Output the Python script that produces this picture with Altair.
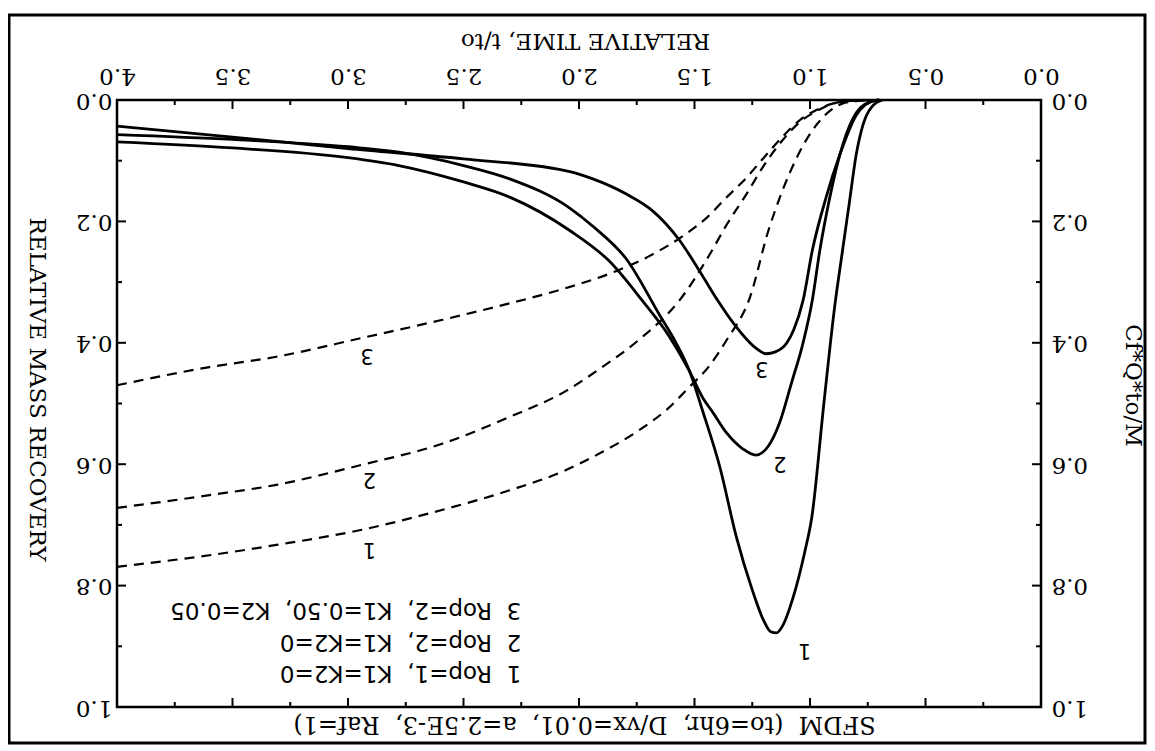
import altair as alt
import pandas as pd

W, H = 924, 607
NB = "\u00a0"

# ---- solid curves: Cf*Q*to/M ----
c1_t = [0.685, 0.73, 0.77, 0.80, 0.83, 0.86, 0.893, 0.94, 0.992, 1.023, 1.075, 1.118, 1.145, 1.17, 1.20,
        1.25, 1.32, 1.39, 1.465, 1.52, 1.58, 1.65, 1.795, 1.94, 2.04, 2.3, 2.5, 2.78, 3.0, 3.5, 4.0]
c1_v = [0.0, 0.01, 0.04, 0.09, 0.17, 0.25, 0.34, 0.50, 0.687, 0.745, 0.822, 0.866, 0.878, 0.876, 0.858,
        0.807, 0.718, 0.605, 0.512, 0.448, 0.40, 0.355, 0.262, 0.208, 0.178, 0.13, 0.108, 0.086, 0.077, 0.065, 0.057]

c2_t = [0.70, 0.74, 0.78, 0.815, 0.87, 0.914, 0.958, 0.99, 1.03, 1.08, 1.13, 1.18, 1.235, 1.29, 1.36,
        1.42, 1.465, 1.52, 1.61, 1.725, 1.87, 2.04, 2.3, 2.5, 2.78, 3.0, 3.5, 4.0]
c2_v = [0.0, 0.003, 0.012, 0.031, 0.089, 0.16, 0.249, 0.33, 0.40, 0.466, 0.53, 0.57, 0.585, 0.575, 0.549,
        0.515, 0.49, 0.448, 0.389, 0.331, 0.265, 0.215, 0.16, 0.135, 0.108, 0.095, 0.079, 0.069]

c3_t = [0.70, 0.73, 0.80, 0.87, 0.93, 0.99, 1.03, 1.07, 1.10, 1.15, 1.19, 1.23, 1.335, 1.40, 1.465,
        1.565, 1.68, 1.795, 1.94, 2.04, 2.5, 3.0, 3.5, 4.0]
c3_v = [0.0, 0.002, 0.025, 0.089, 0.16, 0.248, 0.33, 0.378, 0.40, 0.415, 0.418, 0.41, 0.366, 0.33, 0.29,
        0.231, 0.183, 0.155, 0.13, 0.118, 0.097, 0.08, 0.061, 0.043]

# ---- dashed curves: relative mass recovery ----
m1_t = [0.72, 0.80, 0.86, 0.914, 0.97, 1.044, 1.12, 1.18, 1.26, 1.36, 1.44, 1.52, 1.62, 1.74, 1.9,
        2.07, 2.30, 2.59, 2.94, 3.31, 3.6, 4.0]
m1_v = [0.0, 0.002, 0.006, 0.018, 0.04, 0.085, 0.15, 0.215, 0.325, 0.395, 0.44, 0.472, 0.51, 0.544, 0.58,
        0.612, 0.643, 0.675, 0.708, 0.733, 0.75, 0.769]

m2_t = [0.72, 0.80, 0.88, 0.97, 1.04, 1.118, 1.2, 1.275, 1.36, 1.435, 1.565, 1.74, 1.9, 2.05, 2.30,
        2.59, 2.94, 3.31, 3.6, 4.0]
m2_v = [0.0, 0.001, 0.004, 0.018, 0.035, 0.066, 0.108, 0.155, 0.205, 0.255, 0.33, 0.395, 0.44, 0.478, 0.522,
        0.566, 0.601, 0.634, 0.651, 0.672]

m3_t = [0.72, 0.80, 0.88, 0.97, 1.04, 1.118, 1.2, 1.28, 1.36, 1.45, 1.55, 1.7, 1.84, 2.085, 2.30,
        2.59, 2.94, 3.31, 3.6, 4.0]
m3_v = [0.0, 0.001, 0.004, 0.016, 0.032, 0.06, 0.095, 0.13, 0.16, 0.195, 0.224, 0.258, 0.282, 0.313, 0.335,
        0.362, 0.392, 0.423, 0.44, 0.47]

# ---- curve number labels ----
lab_text = ["1", "2", "3", "3", "2", "1"]
lab_t = [1.023, 1.131, 1.209, 2.917, 2.908, 2.908]
lab_v = [0.906, 0.598, 0.442, 0.42, 0.624, 0.74]

# ---- legend lines ----
leg_text = [
    "1" + NB * 2 + "Rop=1," + NB * 2 + "K1=K2=0",
    "2" + NB * 2 + "Rop=2," + NB * 2 + "K1=K2=0",
    "3" + NB * 2 + "Rop=2," + NB * 2 + "K1=0.50," + NB * 2 + "K2=0.05",
]
leg_t = [2.25, 2.25, 2.25]
leg_v = [0.944, 0.893, 0.84]

# ---- ticks ----
x_major = [0.0, 0.5, 1.0, 1.5, 2.0, 2.5, 3.0, 3.5, 4.0]
x_minor = [0.25, 0.75, 1.25, 1.75, 2.25, 2.75, 3.25, 3.75]
y_major = [0.0, 0.2, 0.4, 0.6, 0.8, 1.0]
y_minor = [0.1, 0.3, 0.5, 0.7, 0.9]

title_bottom = ("SFDM" + NB * 2 + "(to=6hr," + NB * 2 + "D/vx=0.01," + NB * 2 +
                "a=2.5E-3," + NB * 2 + "Raf=1)")


def frame(ts, vs, name):
    return pd.DataFrame({"t": ts, "v": vs, "curve": name})


df_solid = pd.concat([frame(c1_t, c1_v, "1"), frame(c2_t, c2_v, "2"), frame(c3_t, c3_v, "3")])
df_dash = pd.concat([frame(m1_t, m1_v, "1"), frame(m2_t, m2_v, "2"), frame(m3_t, m3_v, "3")])
df_lab = pd.DataFrame({"t": lab_t, "v": lab_v, "txt": lab_text})
df_leg = pd.DataFrame({"t": leg_t, "v": leg_v, "txt": leg_text})

xs = alt.Scale(domain=[0, 4], reverse=True, nice=False, zero=False)
ys = alt.Scale(domain=[0, 1], reverse=True, nice=False, zero=False)

SERIF = "DejaVu Serif"
LBL = dict(labelFont=SERIF, labelFontSize=23, labelColor="black", titleFont=SERIF, titleFontSize=23,
           titleFontWeight="normal", titleColor="black", ticks=False, tickSize=0, domain=False, grid=False,
           labelFlush=False, labelOverlap=False, format=".1f")

dashed = alt.Chart(df_dash).mark_line(color="black", strokeWidth=2.2, strokeDash=[10, 7],
                                      interpolate="monotone").encode(
    x=alt.X("t:Q", scale=xs, axis=alt.Axis(orient="top", values=x_major, labelAngle=180,
                                           labelBaseline="top", labelAlign="center", labelPadding=14,
                                           title="RELATIVE TIME, t/to", titleAngle=180, titleX=468,
                                           titleY=-60, titleAlign="center", titleBaseline="middle", **LBL)),
    y=alt.Y("v:Q", scale=ys, axis=alt.Axis(orient="left", values=y_major, labelAngle=180,
                                           labelAlign="left", labelBaseline="middle", labelPadding=5,
                                           title="RELATIVE MASS RECOVERY", titleAngle=90, titleX=-81,
                                           titleY=289, titleAlign="center", titleBaseline="middle", **LBL)),
    detail="curve:N",
    order=alt.Order("t:Q", sort="descending"),
)

solid = alt.Chart(df_solid).mark_line(color="black", strokeWidth=2.8, interpolate="monotone").encode(
    x=alt.X("t:Q", scale=xs, axis=alt.Axis(orient="bottom", values=x_major, labels=False,
                                           title=title_bottom, titleAngle=180, titleX=467, titleY=16,
                                           titleAlign="center", titleBaseline="middle",
                                           **{**LBL, "titleFontSize": 24})),
    y=alt.Y("v:Q", scale=ys, axis=alt.Axis(orient="right", values=y_major, labelAngle=180,
                                           labelAlign="right", labelBaseline="middle", labelPadding=10,
                                           title="Cf*Q*to/M", titleAngle=90, titleX=91, titleY=285,
                                           titleAlign="center", titleBaseline="middle", **LBL)),
    detail="curve:N",
    order=alt.Order("t:Q", sort="descending"),
)

df_xM = pd.DataFrame({"t": x_major})
df_xm = pd.DataFrame({"t": x_minor})
df_yM = pd.DataFrame({"v": y_major})
df_ym = pd.DataFrame({"v": y_minor})

def xticks(df, y0, y1):
    return alt.Chart(df).mark_rule(color="black", strokeWidth=2).encode(
        x=alt.X("t:Q", scale=xs, axis=None), y=alt.value(y0), y2=alt.value(y1))

def yticks(df, x0, x1):
    return alt.Chart(df).mark_rule(color="black", strokeWidth=2).encode(
        y=alt.Y("v:Q", scale=ys, axis=None), x=alt.value(x0), x2=alt.value(x1))

ticks = [
    xticks(df_xM, 0, 9), xticks(df_xm, 0, 5), xticks(df_xM, H, H - 9), xticks(df_xm, H, H - 5),
    yticks(df_yM, 0, 9), yticks(df_ym, 0, 5), yticks(df_yM, W, W - 9), yticks(df_ym, W, W - 5),
]

labels = alt.Chart(df_lab).mark_text(font="DejaVu Sans", fontSize=21, angle=180, align="center",
                                     baseline="middle", color="black").encode(
    x=alt.X("t:Q", scale=xs, axis=None), y=alt.Y("v:Q", scale=ys, axis=None), text="txt:N")

legend = alt.Chart(df_leg).mark_text(font="DejaVu Sans", fontSize=23, angle=180, align="left",
                                     baseline="middle", color="black").encode(
    x=alt.X("t:Q", scale=xs, axis=None), y=alt.Y("v:Q", scale=ys, axis=None), text="txt:N")

border = alt.Chart(pd.DataFrame({"a": [0]})).mark_rect(filled=False, stroke="black", strokeWidth=3).encode(
    x=alt.value(-108), x2=alt.value(W + 104), y=alt.value(-85), y2=alt.value(H + 36))

chart = alt.layer(border, *ticks, dashed, solid, labels, legend).resolve_axis(
    x="independent", y="independent"
).properties(
    width=W, height=H,
    padding={"left": 109, "top": 92, "right": 106, "bottom": 38},
    autosize=alt.AutoSizeParams(type="none"),
    background="white",
).configure_view(stroke="black", strokeWidth=2.5)

chart.save("out.html", embed_options={"renderer": "svg", "actions": False})
